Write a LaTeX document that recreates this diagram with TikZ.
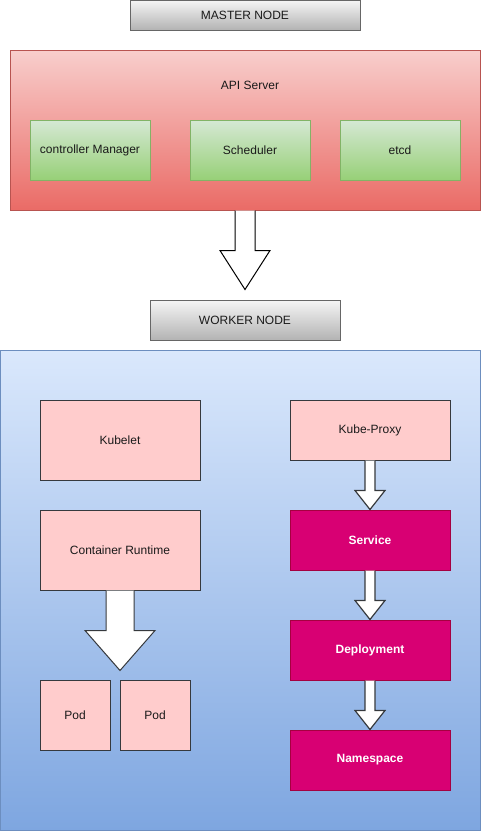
\documentclass[tikz,border=0pt]{standalone}
\usepackage{fontspec}
\setmainfont{Liberation Sans}
\usetikzlibrary{calc}
\definecolor{grayTop}{HTML}{F5F5F5}
\definecolor{grayBot}{HTML}{B3B3B3}
\definecolor{grayLine}{HTML}{666666}
\definecolor{redTop}{HTML}{F8CECC}
\definecolor{redBot}{HTML}{EA6B66}
\definecolor{redLine}{HTML}{B85450}
\definecolor{greenTop}{HTML}{D5E8D4}
\definecolor{greenBot}{HTML}{97D077}
\definecolor{greenLine}{HTML}{82B366}
\definecolor{blueTop}{HTML}{DAE8FC}
\definecolor{blueBot}{HTML}{7EA6E0}
\definecolor{blueLine}{HTML}{6C8EBF}
\definecolor{pinkFill}{HTML}{FFCCCC}
\definecolor{darkLine}{HTML}{36393D}
\definecolor{magFill}{HTML}{D80073}
\definecolor{magLine}{HTML}{A50040}
\definecolor{txt}{HTML}{1A1A1A}
\tikzset{
  base/.style={rectangle, line width=1pt, inner sep=0pt, font=\fontsize{12}{14}\selectfont, text=txt},
  header/.style={base, draw=grayLine, top color=grayTop, bottom color=grayBot},
  greenbox/.style={base, draw=greenLine, top color=greenTop, bottom color=greenBot, minimum width=120pt, minimum height=60pt},
  pinkbox/.style={base, draw=darkLine, fill=pinkFill},
  magbox/.style={base, draw=magLine, fill=magFill, text=white, font=\fontsize{12}{14}\selectfont\bfseries, minimum width=160pt, minimum height=60pt},
  fatarrow/.style={draw=black, fill=white, line width=1pt, line join=miter},
  smallarrow/.style={draw=darkLine, fill=white, line width=1.2pt, line join=miter}
}
\begin{document}
\begin{tikzpicture}[x=1pt,y=-1pt]
\useasboundingbox (0,0) rectangle (481,831);
% master
\node[header, minimum width=230pt, minimum height=30pt] (mn) at (245,15) {MASTER NODE};
\node[base, draw=redLine, top color=redTop, bottom color=redBot, minimum width=470pt, minimum height=160pt] (api) at (245,130) {};
\node[base] (apit) at (250,85) {API Server};
\node[greenbox] (cm) at (90,150) {controller Manager};
\node[greenbox] (sch) at (250,150) {Scheduler};
\node[greenbox] (etcd) at (400,150) {etcd};
% worker
\node[header, minimum width=190pt, minimum height=40pt] (wn) at (245,320) {WORKER NODE};
\node[base, draw=blueLine, top color=blueTop, bottom color=blueBot, minimum width=480pt, minimum height=480pt] (wk) at (240,590) {};
\node[pinkbox, minimum width=160pt, minimum height=80pt] (kub) at (120,440) {Kubelet};
\node[pinkbox, minimum width=160pt, minimum height=80pt] (cr) at (120,550) {Container Runtime};
\node[pinkbox, minimum width=70pt, minimum height=70pt] (pod1) at (75,715) {Pod};
\node[pinkbox, minimum width=70pt, minimum height=70pt] (pod2) at (155,715) {Pod};
\node[pinkbox, minimum width=160pt, minimum height=60pt] (kp) at (370,430) {Kube-Proxy};
\node[magbox] (svc) at (370,540) {Service};
\node[magbox] (dep) at (370,650) {Deployment};
\node[magbox] (ns) at (370,760) {Namespace};
% big arrow master -> worker
\draw[fatarrow] ($(api.south)+(-10,0)$) -- ($(api.south)+(-10,40)$) -- ($(api.south)+(-25,40)$)
  -- ($(wn.north)+(0,-10)$) -- ($(api.south)+(25,40)$) -- ($(api.south)+(10,40)$) -- ($(api.south)+(10,0)$);
% arrow container runtime -> pods
\draw[fatarrow, draw=darkLine] ($(cr.south)+(-14,0)$) -- ($(cr.south)+(-14,40)$) -- ($(cr.south)+(-35,40)$)
  -- ($(cr.south)+(0,80)$) -- ($(cr.south)+(35,40)$) -- ($(cr.south)+(14,40)$) -- ($(cr.south)+(14,0)$);
% small arrows
\foreach \a/\b in {kp/svc, svc/dep, dep/ns}{
  \draw[smallarrow] ($(\a.south)+(-5,0)$) -- ($(\a.south)+(-5,30)$) -- ($(\a.south)+(-15,30)$)
    -- (\b.north) -- ($(\a.south)+(15,30)$) -- ($(\a.south)+(5,30)$) -- ($(\a.south)+(5,0)$);
}
\end{tikzpicture}
\end{document}
